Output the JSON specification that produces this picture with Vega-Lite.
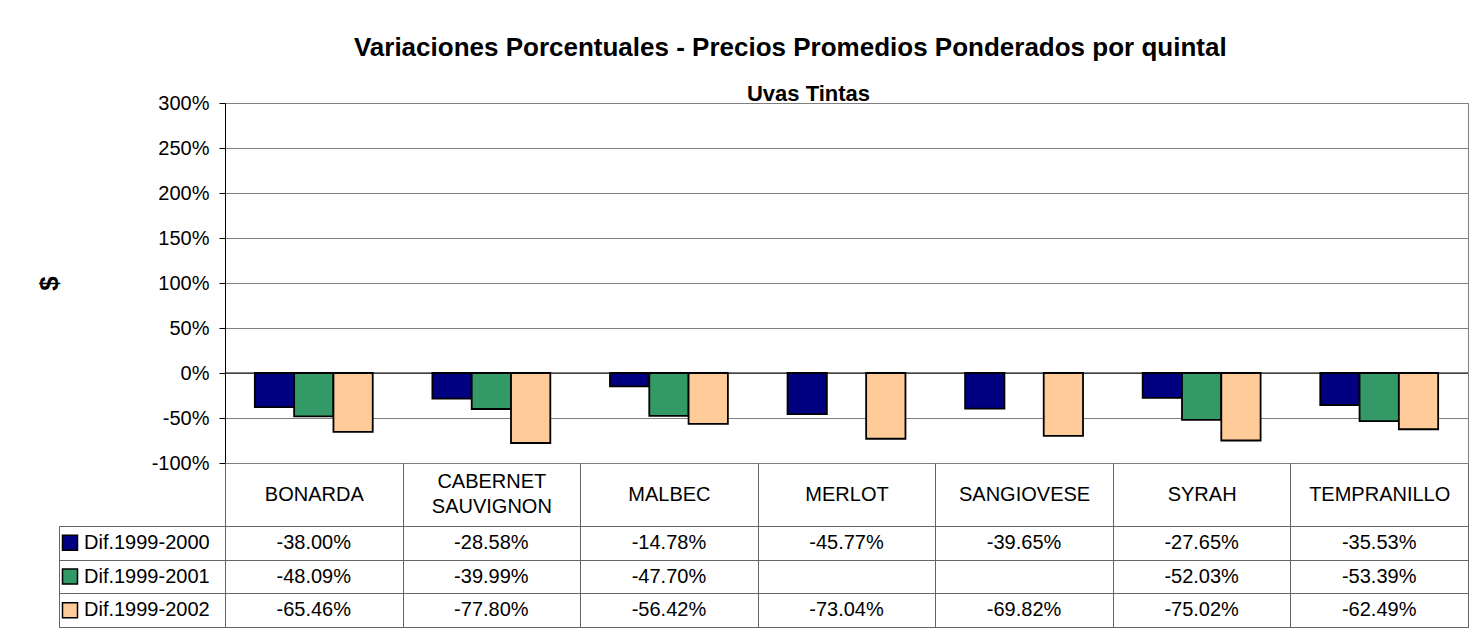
{
  "$schema": "https://vega.github.io/schema/vega-lite/v6.json",
  "padding": {"left": 35, "top": 34, "right": 10, "bottom": 8},
  "title": {
    "text": "Variaciones Porcentuales - Precios Promedios Ponderados por quintal",
    "anchor": "middle",
    "frame": "bounds",
    "font": "Liberation Sans",
    "fontSize": 26,
    "fontWeight": "bold",
    "color": "black",
    "baseline": "alphabetic",
    "offset": 1,
    "dx": 38
  },
  "datasets": {
    "d": [
      {"cat": "BONARDA", "serie": "Dif.1999-2000", "value": -0.38},
      {"cat": "BONARDA", "serie": "Dif.1999-2001", "value": -0.4809},
      {"cat": "BONARDA", "serie": "Dif.1999-2002", "value": -0.6546},
      {"cat": "CABERNET SAUVIGNON", "serie": "Dif.1999-2000", "value": -0.2858},
      {"cat": "CABERNET SAUVIGNON", "serie": "Dif.1999-2001", "value": -0.3999},
      {"cat": "CABERNET SAUVIGNON", "serie": "Dif.1999-2002", "value": -0.778},
      {"cat": "MALBEC", "serie": "Dif.1999-2000", "value": -0.1478},
      {"cat": "MALBEC", "serie": "Dif.1999-2001", "value": -0.477},
      {"cat": "MALBEC", "serie": "Dif.1999-2002", "value": -0.5642},
      {"cat": "MERLOT", "serie": "Dif.1999-2000", "value": -0.4577},
      {"cat": "MERLOT", "serie": "Dif.1999-2002", "value": -0.7304},
      {"cat": "SANGIOVESE", "serie": "Dif.1999-2000", "value": -0.3965},
      {"cat": "SANGIOVESE", "serie": "Dif.1999-2002", "value": -0.6982},
      {"cat": "SYRAH", "serie": "Dif.1999-2000", "value": -0.2765},
      {"cat": "SYRAH", "serie": "Dif.1999-2001", "value": -0.5203},
      {"cat": "SYRAH", "serie": "Dif.1999-2002", "value": -0.7502},
      {"cat": "TEMPRANILLO", "serie": "Dif.1999-2000", "value": -0.3553},
      {"cat": "TEMPRANILLO", "serie": "Dif.1999-2001", "value": -0.5339},
      {"cat": "TEMPRANILLO", "serie": "Dif.1999-2002", "value": -0.6249}
    ],
    "s": [
      {"serie": "Dif.1999-2000"},
      {"serie": "Dif.1999-2001"},
      {"serie": "Dif.1999-2002"}
    ]
  },
  "columns": 2,
  "spacing": {"row": 63, "column": 0},
  "bounds": "flush",
  "concat": [
    {
      "width": 166,
      "height": 360,
      "view": {"stroke": null},
      "data": {"values": [{}]},
      "mark": {"type": "text", "text": ""},
      "encoding": {}
    },
    {
      "width": 1243,
      "height": 360,
      "view": {"stroke": "#808080"},
      "title": {
        "text": "Uvas Tintas",
        "anchor": "middle",
        "font": "Liberation Sans",
        "fontSize": 22,
        "fontWeight": "bold",
        "color": "black",
        "baseline": "alphabetic",
        "offset": -30,
        "dx": -38
      },
      "layer": [
        {
          "data": {"values": [{}]},
          "mark": {"type": "rule", "color": "black", "strokeWidth": 1},
          "encoding": {"y": {"datum": 0, "type": "quantitative"}}
        },
        {
          "data": {"name": "d"},
          "mark": {"type": "bar", "stroke": "black", "strokeWidth": 1.8},
          "encoding": {
            "x": {
              "field": "cat",
              "type": "nominal",
              "scale": {
                "domain": ["BONARDA", "CABERNET SAUVIGNON", "MALBEC", "MERLOT", "SANGIOVESE", "SYRAH", "TEMPRANILLO"],
                "paddingInner": 0.336,
                "paddingOuter": 0.168
              },
              "axis": null
            },
            "xOffset": {
              "field": "serie",
              "type": "nominal",
              "scale": {"domain": ["Dif.1999-2000", "Dif.1999-2001", "Dif.1999-2002"], "paddingInner": 0, "paddingOuter": 0}
            },
            "y": {
              "field": "value",
              "type": "quantitative",
              "scale": {"domain": [-1, 3], "nice": false, "zero": false},
              "axis": {
                "title": "$",
                "values": [-1, -0.5, 0, 0.5, 1, 1.5, 2, 2.5, 3],
                "format": ".0%",
                "grid": true,
                "gridColor": "#808080",
                "domainColor": "black",
                "tickColor": "black",
                "tickSize": 6,
                "labelPadding": 10,
                "labelFontSize": 20,
                "labelColor": "black",
                "titleFontSize": 26,
                "titleFontWeight": "bold",
                "titleColor": "black",
                "titleX": -176,
                "titleY": 180,
                "titleAngle": -90,
                "titleBaseline": "middle",
                "titleAlign": "center"
              }
            },
            "color": {
              "field": "serie",
              "type": "nominal",
              "scale": {"domain": ["Dif.1999-2000", "Dif.1999-2001", "Dif.1999-2002"], "range": ["#000080", "#339966", "#FFCC99"]},
              "legend": null
            }
          }
        }
      ]
    },
    {
      "width": 166,
      "height": 101,
      "view": {"stroke": "#666666"},
      "data": {"name": "s"},
      "encoding": {
        "y": {
          "field": "serie",
          "type": "nominal",
          "scale": {"domain": ["Dif.1999-2000", "Dif.1999-2001", "Dif.1999-2002"], "paddingInner": 0, "paddingOuter": 0},
          "axis": {"title": null, "labels": false, "ticks": false, "domain": false, "grid": true, "tickBand": "extent", "gridColor": "#666666"}
        }
      },
      "layer": [
        {
          "mark": {"type": "square", "size": 225, "xOffset": -72, "stroke": "black", "strokeWidth": 1.5, "opacity": 1, "filled": true},
          "encoding": {
            "color": {
              "field": "serie",
              "type": "nominal",
              "scale": {"domain": ["Dif.1999-2000", "Dif.1999-2001", "Dif.1999-2002"], "range": ["#000080", "#339966", "#FFCC99"]},
              "legend": null
            }
          }
        },
        {
          "mark": {"type": "text", "align": "left", "dx": -58, "fontSize": 20, "color": "black"},
          "encoding": {"text": {"field": "serie"}}
        }
      ]
    },
    {
      "width": 1243,
      "height": 101,
      "view": {"stroke": "#666666"},
      "data": {"name": "d"},
      "mark": {"type": "text", "fontSize": 20, "color": "black"},
      "encoding": {
        "x": {
          "field": "cat",
          "type": "nominal",
          "scale": {"domain": ["BONARDA", "CABERNET SAUVIGNON", "MALBEC", "MERLOT", "SANGIOVESE", "SYRAH", "TEMPRANILLO"], "paddingInner": 0, "paddingOuter": 0},
          "axis": {
            "orient": "top",
            "title": null,
            "domain": false,
            "grid": true,
            "gridColor": "#666666",
            "tickBand": "extent",
            "tickSize": 63,
            "tickColor": "#666666",
            "labelAngle": 0,
            "labelBaseline": "middle",
            "labelFontSize": 20,
            "labelLineHeight": 25,
            "labelColor": "black",
            "labelPadding": {"condition": {"test": "datum.label == 'CABERNET SAUVIGNON'", "value": -18}, "value": -31},
            "labelExpr": "split(datum.label, ' ')"
          }
        },
        "y": {
          "field": "serie",
          "type": "nominal",
          "scale": {"domain": ["Dif.1999-2000", "Dif.1999-2001", "Dif.1999-2002"], "paddingInner": 0, "paddingOuter": 0},
          "axis": {"title": null, "labels": false, "ticks": false, "domain": false, "grid": true, "tickBand": "extent", "gridColor": "#666666"}
        },
        "text": {"field": "value", "type": "quantitative", "format": ".2%"}
      }
    }
  ],
  "config": {
    "font": "Liberation Sans",
    "locale": {
      "number": {"decimal": ".", "thousands": ",", "grouping": [3], "currency": ["$", ""], "minus": "-", "percent": "%"}
    },
    "axis": {"labelFont": "Liberation Sans", "titleFont": "Liberation Sans"},
    "text": {"font": "Liberation Sans"}
  }
}
